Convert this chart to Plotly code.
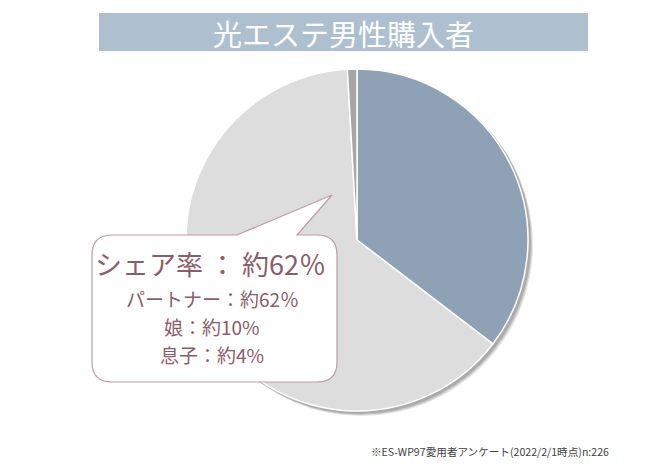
import plotly.graph_objects as go

# Data
categories = ["自分用", "贈り物", "無回答"]
values = [35.4, 63.7, 0.9]
colors = ["#8fa1b4", "#dddddd", "#a6a6a6"]

title_text = "光エステ男性購入者"
callout_lines = ["シェア率 ： 約62％", "パートナー：約62％", "娘：約10%", "息子：約4%"]
footnote = "※ES-WP97愛用者アンケート(2022/2/1時点)n:226"

# the page body has an 8px margin; draw in reference pixel coords shifted by it
OFF = 8
W, H = 650 - OFF, 464 - OFF
FONT = "Noto Sans CJK JP"


def px(x):
    return x - OFF


fig = go.Figure()

cx, cy, r = px(357), px(240), 171
fig.add_trace(go.Pie(
    labels=categories,
    values=values,
    marker=dict(colors=colors, line=dict(color="white", width=1.5)),
    sort=False,
    direction="clockwise",
    rotation=0,
    textinfo="none",
    hoverinfo="label+percent",
    showlegend=False,
    domain=dict(x=[(cx - r) / W, (cx + r) / W],
                y=[(H - cy - r) / H, (H - cy + r) / H]),
))

shapes = []
for off, op in [(5, 0.10), (4, 0.12), (3, 0.15)]:
    shapes.append(dict(type="circle", xref="x", yref="y", layer="below",
                       x0=cx - r + off - 1, x1=cx + r + off, y0=cy - r + off - 1, y1=cy + r + off,
                       fillcolor=f"rgba(0,0,0,{op})", line=dict(width=0)))
shapes.append(dict(type="rect", xref="x", yref="y", layer="above",
                   x0=px(99), x1=px(588), y0=px(13), y1=px(51),
                   fillcolor="#aebfcf", line=dict(width=0)))


def P(x, y):
    return f"{px(x)},{px(y)}"


path = (f"M {P(112,235)} L {P(237,235)} L {P(332,195)} L {P(297,235)} L {P(317,235)} "
        f"Q {P(337,235)} {P(337,255)} L {P(337,362)} Q {P(337,382)} {P(317,382)} "
        f"L {P(112,382)} Q {P(92,382)} {P(92,362)} L {P(92,255)} Q {P(92,235)} {P(112,235)} Z")
shapes.append(dict(type="path", xref="x", yref="y", layer="above", path=path,
                   fillcolor="white", line=dict(color="#b99ea5", width=1.2)))

TXT = "#8a5d69"
annotations = [
    dict(text=title_text, x=px(343), y=px(33), xref="x", yref="y", showarrow=False,
         font=dict(family=FONT, size=29, color="white"), xanchor="center", yanchor="middle"),
    dict(text=callout_lines[0], x=px(210), y=px(263), xref="x", yref="y", showarrow=False,
         font=dict(family=FONT, size=27, color=TXT), xanchor="center", yanchor="middle"),
]
for line, yy in zip(callout_lines[1:], [298, 326, 354]):
    annotations.append(dict(text=line, x=px(212), y=px(yy), xref="x", yref="y",
                            showarrow=False,
                            font=dict(family=FONT, size=19, color=TXT),
                            xanchor="center", yanchor="middle"))
annotations.append(dict(text=footnote, x=px(369), y=px(451), xref="x", yref="y", showarrow=False,
                        font=dict(family=FONT, size=10.6, color="#404040"),
                        xanchor="left", yanchor="middle"))

fig.update_layout(
    width=W, height=H,
    margin=dict(l=0, r=0, t=0, b=0),
    paper_bgcolor="white", plot_bgcolor="rgba(0,0,0,0)",
    xaxis=dict(range=[0, W], visible=False, fixedrange=True),
    yaxis=dict(range=[H, 0], visible=False, fixedrange=True),
    shapes=shapes,
    annotations=annotations,
)

fig.write_html("out.html")
